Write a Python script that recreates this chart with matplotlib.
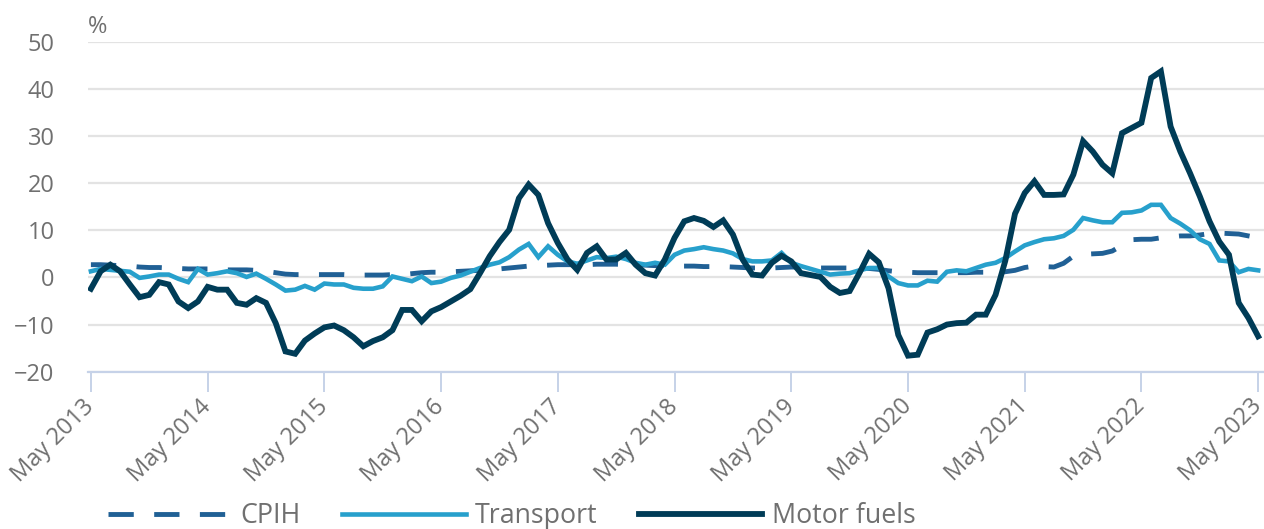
import matplotlib
matplotlib.use("Agg")
import matplotlib.pyplot as plt
import numpy as np

# monthly annual rates, May 2013 to May 2023
cpih = [2.7, 2.7, 2.6, 2.5, 2.4, 2.2, 2.1, 2.1, 2.0, 1.9,
        1.8, 1.8, 1.8, 1.7, 1.6, 1.6, 1.6, 1.5, 1.3, 1.0,
        0.7, 0.6, 0.6, 0.6, 0.6, 0.6, 0.6, 0.5, 0.5, 0.5,
        0.5, 0.6, 0.6, 0.8, 1.0, 1.1, 1.1, 1.2, 1.3, 1.4,
        1.5, 1.6, 1.8, 2.0, 2.2, 2.4, 2.5, 2.6, 2.7, 2.7,
        2.7, 2.7, 2.8, 2.8, 2.8, 2.7, 2.7, 2.6, 2.5, 2.5,
        2.4, 2.4, 2.4, 2.3, 2.3, 2.3, 2.2, 2.1, 2.0, 2.0,
        2.0, 2.1, 2.2, 2.2, 2.1, 2.0, 2.0, 2.0, 2.0, 2.0,
        1.9, 1.7, 1.4, 1.2, 1.1, 1.0, 1.0, 1.0, 1.0, 1.0,
        1.0, 1.1, 1.1, 1.1, 1.2, 1.5, 2.1, 2.4, 2.3, 2.2,
        3.0, 4.5, 4.9, 5.0, 5.1, 5.6, 6.8, 8.0, 8.1, 8.1,
        8.4, 8.6, 8.8, 8.8, 9.0, 9.3, 9.4, 9.3, 9.2, 8.8,
        8.4]

transport = [1.3, 1.8, 1.6, 1.4, 1.2, -0.1, 0.2, 0.6, 0.6, -0.3,
             -1.0, 1.8, 0.6, 0.9, 1.3, 0.9, 0.1, 0.8, -0.3, -1.5,
             -2.8, -2.6, -1.8, -2.6, -1.3, -1.5, -1.5, -2.2, -2.4, -2.4,
             -1.9, 0.2, -0.3, -0.8, 0.2, -1.2, -0.9, -0.1, 0.4, 1.2,
             2.0, 2.7, 3.2, 4.3, 5.9, 7.1, 4.3, 6.6, 4.8, 3.4,
             2.9, 3.6, 4.3, 4.1, 4.4, 3.9, 3.1, 2.7, 3.1, 2.7,
             4.8, 5.7, 6.0, 6.4, 6.0, 5.7, 5.1, 3.9, 3.4, 3.4,
             3.6, 5.2, 3.1, 2.4, 1.8, 1.2, 0.6, 0.8, 0.9, 1.5,
             2.0, 2.0, 0.2, -1.2, -1.7, -1.7, -0.7, -0.9, 1.2, 1.5,
             1.3, 2.0, 2.7, 3.1, 4.1, 5.5, 6.8, 7.5, 8.1, 8.3,
             8.8, 10.1, 12.6, 12.1, 11.7, 11.7, 13.7, 13.8, 14.2, 15.4,
             15.4, 12.6, 11.4, 10.0, 8.1, 7.1, 3.6, 3.4, 1.1, 1.8,
             1.5]

motor_fuels = [-2.4, 1.3, 2.7, 1.3, -1.5, -4.2, -3.7, -1.0, -1.5, -5.1,
               -6.5, -5.1, -2.0, -2.6, -2.6, -5.4, -5.8, -4.4, -5.4, -9.7,
               -15.7, -16.2, -13.4, -11.9, -10.6, -10.2, -11.2, -12.7, -14.6, -13.5,
               -12.7, -11.2, -6.9, -6.9, -9.3, -7.2, -6.3, -5.1, -3.9, -2.5,
               0.9, 4.5, 7.5, 10.1, 16.8, 19.7, 17.5, 11.5, 7.3, 3.8,
               1.6, 5.2, 6.6, 3.8, 3.8, 5.2, 2.7, 0.9, 0.4, 3.8,
               8.4, 11.9, 12.6, 12.0, 10.7, 12.1, 9.1, 3.8, 0.6, 0.4,
               3.1, 4.6, 3.4, 0.9, 0.5, 0.1, -2.0, -3.3, -2.9, 0.9,
               5.0, 3.2, -2.3, -12.2, -16.6, -16.4, -11.7, -11.0, -10.0, -9.7,
               -9.6, -7.9, -7.9, -3.7, 3.5, 13.5, 17.9, 20.4, 17.5, 17.5,
               17.6, 21.8, 28.9, 26.7, 23.9, 22.1, 30.6, 31.7, 32.8, 42.3,
               43.7, 32.0, 26.7, 22.1, 17.2, 11.9, 7.6, 4.8, -5.4, -8.6,
               -12.5]

tick_labels = ["May 2013", "May 2014", "May 2015", "May 2016", "May 2017",
               "May 2018", "May 2019", "May 2020", "May 2021", "May 2022",
               "May 2023"]

grey = "#707070"
axis_col = "#c6d2e8"
plt.rcParams["font.family"] = ["Open Sans", "DejaVu Sans"]

months = np.arange(len(motor_fuels))

fig = plt.figure(figsize=(12.64, 5.29), dpi=100)
ax = fig.add_axes([88 / 1264, 1 - 371.7 / 529, (1264 - 88) / 1264, 330 / 529])

ax.plot(months, cpih, color="#206095", lw=3.5, dashes=(5.2, 4.2),
        label="CPIH")
ax.plot(months, transport, color="#27a0cc", lw=3.3, label="Transport",
        solid_joinstyle="miter")
ax.plot(months, motor_fuels, color="#003c57", lw=4.2, label="Motor fuels",
        solid_joinstyle="miter")

ax.set_xlim(-0.3, 120.6)
ax.set_ylim(-20, 50)
ax.set_yticks(np.arange(-20, 51, 10))
ax.yaxis.grid(True, color="#e3e3e3", lw=1.6)
ax.set_axisbelow(True)

ax.set_xticks(np.arange(0, 121, 12))
ax.set_xticklabels(tick_labels, rotation=45, ha="right", va="center",
                   rotation_mode="anchor")
ax.tick_params(axis="x", length=14.5, width=1.4, color=axis_col,
               labelsize=17, labelcolor=grey, pad=8)
ax.tick_params(axis="y", length=0, labelsize=17, labelcolor=grey, pad=24)

for s in ["top", "right", "left"]:
    ax.spines[s].set_visible(False)
ax.spines["bottom"].set_color(axis_col)
ax.spines["bottom"].set_linewidth(1.6)

fig.text(88 / 1264, 1 - 27 / 529, "%", fontsize=17, color=grey,
         va="center", ha="left")

leg = fig.legend(loc="center left", bbox_to_anchor=(97 / 1264, 1 - 516 / 529),
                 ncol=3, frameon=False, fontsize=19.3, handlelength=4.6,
                 handletextpad=0.35, columnspacing=1.55, borderaxespad=0)
for t in leg.get_texts():
    t.set_color(grey)

fig.savefig("out.png", dpi=100)
